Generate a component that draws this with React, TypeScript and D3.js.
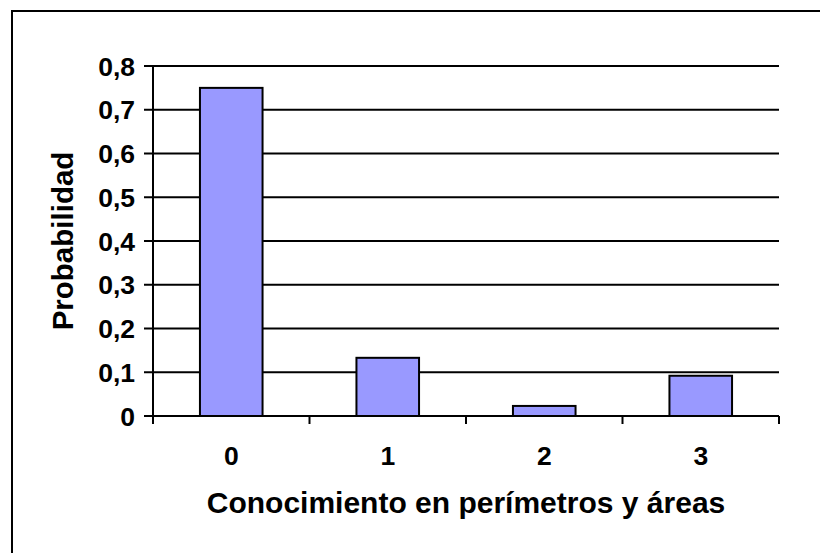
import React from "react";
import * as d3 from "d3";

const categories = ["0", "1", "2", "3"];
const probabilities = [0.75, 0.133, 0.023, 0.092];
const yTicks = [0, 0.1, 0.2, 0.3, 0.4, 0.5, 0.6, 0.7, 0.8];

const FONT = "'Liberation Sans', Arial, sans-serif";

export default function App() {
  const width = 820;
  const height = 553;
  const plot = { left: 153, right: 779, top: 66, bottom: 416 };

  const x = d3
    .scaleBand<string>()
    .domain(categories)
    .range([plot.left, plot.right])
    .paddingInner(0.6)
    .paddingOuter(0.3);

  const y = d3.scaleLinear().domain([0, 0.8]).range([plot.bottom, plot.top]);

  const fmt = (v: number) => (v === 0 ? "0" : d3.format(".1f")(v).replace(".", ","));

  // category tick boundaries (between bands)
  const step = x.step();
  const catTicks = d3.range(categories.length + 1).map((i) => plot.left + i * step);

  return (
    <svg
      width={width}
      height={height}
      style={{ position: "absolute", left: 0, top: 0, background: "#fff" }}
    >
      <rect x={12} y={11} width={900} height={700} fill="#fff" stroke="#000" strokeWidth={2} />

      {/* gridlines + y ticks */}
      {yTicks.map((t) => (
        <g key={t}>
          <line x1={plot.left - 9} x2={plot.right} y1={y(t)} y2={y(t)} stroke="#000" strokeWidth={2} />
          <text
            x={135}
            y={y(t)}
            dy="0.36em"
            textAnchor="end"
            fontFamily={FONT}
            fontWeight="bold"
            fontSize={26.5}
          >
            {fmt(t)}
          </text>
        </g>
      ))}

      {/* y axis */}
      <line x1={plot.left} x2={plot.left} y1={plot.top} y2={plot.bottom + 8} stroke="#000" strokeWidth={2} />

      {/* bars */}
      {categories.map((c, i) => (
        <rect
          key={c}
          x={x(c)}
          y={y(probabilities[i])}
          width={x.bandwidth()}
          height={y(0) - y(probabilities[i])}
          fill="#9999FF"
          stroke="#000"
          strokeWidth={2}
        />
      ))}

      {/* x axis ticks */}
      {catTicks.map((t, i) => (
        <line key={i} x1={t} x2={t} y1={plot.bottom} y2={plot.bottom + 8} stroke="#000" strokeWidth={2} />
      ))}
      <line x1={plot.left} x2={plot.right} y1={plot.bottom} y2={plot.bottom} stroke="#000" strokeWidth={2} />

      {/* x tick labels */}
      {categories.map((c) => (
        <text
          key={c}
          x={(x(c) ?? 0) + x.bandwidth() / 2}
          y={465}
          textAnchor="middle"
          fontFamily={FONT}
          fontWeight="bold"
          fontSize={26.5}
        >
          {c}
        </text>
      ))}

      {/* axis titles */}
      <text
        x={(plot.left + plot.right) / 2}
        y={513}
        textAnchor="middle"
        fontFamily={FONT}
        fontWeight="bold"
        fontSize={30}
      >
        Conocimiento en perímetros y áreas
      </text>
      <text
        transform={`translate(73,${(plot.top + plot.bottom) / 2}) rotate(-90)`}
        textAnchor="middle"
        fontFamily={FONT}
        fontWeight="bold"
        fontSize={29.5}
      >
        Probabilidad
      </text>
    </svg>
  );
}
